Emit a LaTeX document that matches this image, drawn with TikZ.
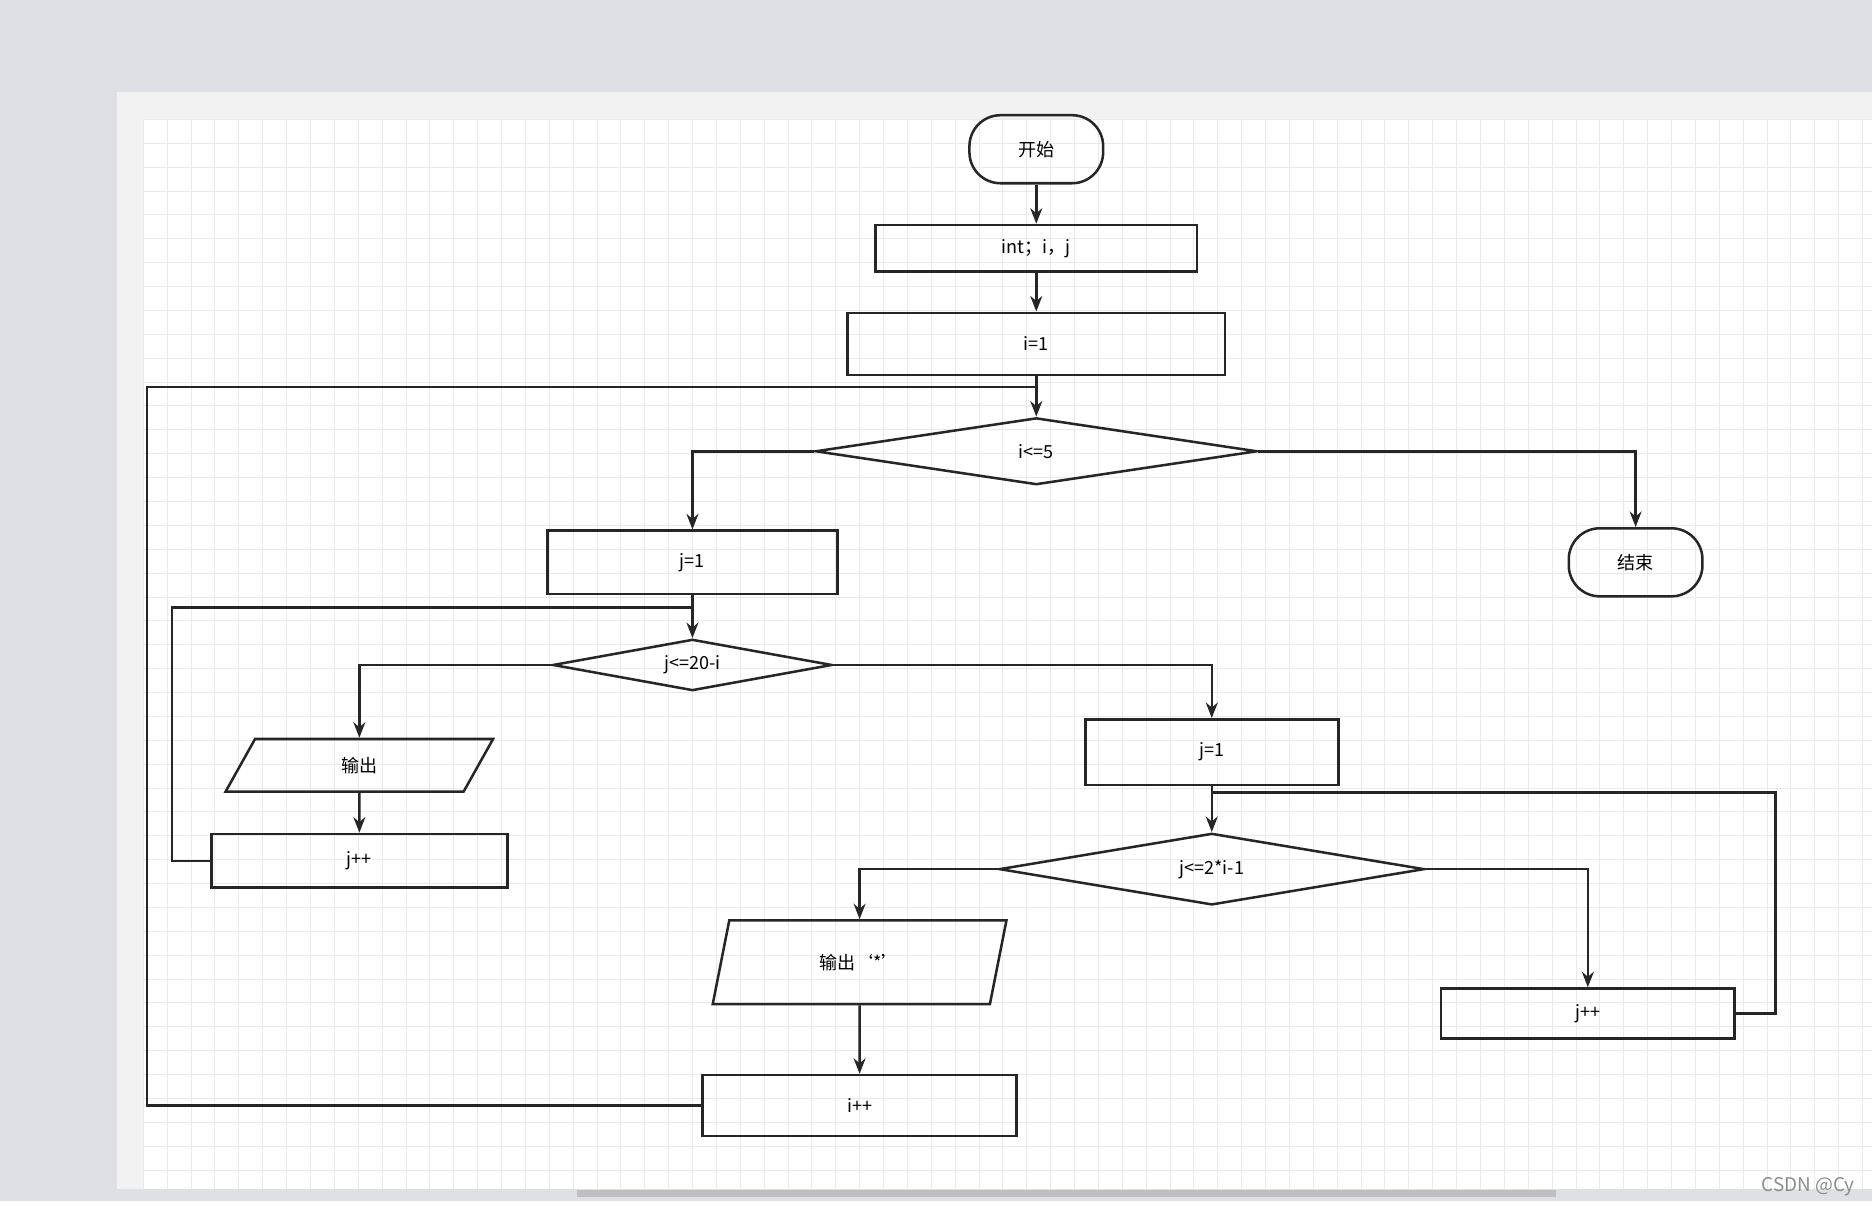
\documentclass[tikz,border=0pt]{standalone}
\usepackage{fontspec}
\setmainfont{Noto Sans CJK SC}
\usetikzlibrary{shapes.geometric,arrows.meta}
\definecolor{outerbg}{HTML}{DFE0E5}
\definecolor{pageband}{HTML}{F2F2F2}
\definecolor{gridc}{HTML}{EAEAEA}
\tikzset{
  box/.style={draw=black!85,line width=0.6pt,minimum width=#1,inner sep=0pt,font=\fontsize{4.3}{5}\selectfont},
  term/.style={box=11.2mm,rounded corners=2.6mm,minimum height=5.7mm},
  cond/.style={draw=black!85,line width=0.6pt,diamond,inner sep=0pt,font=\fontsize{4.3}{5}\selectfont},
  io/.style={draw=black!85,line width=0.6pt,trapezium,trapezium left angle=73,trapezium right angle=107,
    trapezium stretches=true,inner sep=0pt,font=\fontsize{4.3}{5}\selectfont},
  flow/.style={line width=0.6pt,draw=black!85,-{Stealth[length=1.3mm,width=1mm]}},
  link/.style={line width=0.6pt,draw=black!85}
}
\begin{document}
\begin{tikzpicture}[x=0.1mm,y=-0.1mm]
\useasboundingbox (0,0) rectangle (1568,1010);
% background
\fill[outerbg] (0,0) rectangle (1568,1010);
\fill[pageband] (98,77) rectangle (1568,996);
\fill[white] (120,100) rectangle (1568,996);
\foreach \gx in {120,140,...,1560} \draw[gridc,line width=0.2pt] (\gx,100) -- (\gx,996);
\foreach \gy in {100,120,...,990} \draw[gridc,line width=0.2pt] (120,\gy) -- (1568,\gy);
\fill[black!25] (483,997) rectangle (1303,1003);
\fill[white] (0,1006) rectangle (1568,1010);
\node[text=black!45,font=\fontsize{4.5}{5}\selectfont,anchor=east] (wm) at (1566,994) {CSDN @Cy};

% nodes
\node[term] (start) at (868,125) {开始};
\node[box=26.9mm,minimum height=3.9mm] (decl) at (868,208) {int；i，j};
\node[box=31.6mm,minimum height=5.2mm] (iinit) at (868,288) {i=1};
\node[cond,minimum width=37mm,minimum height=5.6mm,aspect=6.6] (ci) at (868,378) {i<=5};
\node[box=24.3mm,minimum height=5.3mm] (jinit1) at (580,471) {j=1};
\node[term] (stop) at (1370,471) {结束};
\node[cond,minimum width=23.4mm,minimum height=4.3mm,aspect=5.4] (cj1) at (580,557) {j<=20-i};
\node[io,minimum width=22.4mm,minimum height=4.4mm] (out1) at (301,641) {输出};
\node[box=24.8mm,minimum height=4.5mm] (jinc1) at (301,721) {j++};
\node[box=21.2mm,minimum height=5.5mm] (jinit2) at (1015,630) {j=1};
\node[cond,minimum width=35.6mm,minimum height=6mm,aspect=5.9] (cj2) at (1015,728) {j<=2*i-1};
\node[io,minimum width=24.6mm,minimum height=7mm] (out2) at (720,806) {输出‘*’};
\node[box=24.6mm,minimum height=4.2mm] (jinc2) at (1330,849) {j++};
\node[box=26.3mm,minimum height=5.1mm] (iinc) at (720,926) {i++};

% connectors
\draw[flow] (start) -- (decl);
\draw[flow] (decl) -- (iinit);
\draw[flow] (iinit) -- (ci);
\draw[flow] (ci.west) -| (jinit1.north);
\draw[flow] (ci.east) -| (stop.north);
\draw[flow] (jinit1) -- (cj1);
\draw[flow] (cj1.west) -| (out1.north);
\draw[flow] (out1) -- (jinc1);
\draw[link] (jinc1.west) -- (144,721) -- (144,509) -- (580,509);
\draw[flow] (cj1.east) -| (jinit2.north);
\draw[flow] (jinit2) -- (cj2);
\draw[flow] (cj2.west) -| (out2.north);
\draw[flow] (cj2.east) -| (jinc2.north);
\draw[link] (jinc2.east) -- (1487,849) -- (1487,664) -- (1015,664);
\draw[flow] (out2) -- (iinc);
\draw[link] (iinc.west) -- (123,926) -- (123,324) -- (868,324);
\end{tikzpicture}
\end{document}
